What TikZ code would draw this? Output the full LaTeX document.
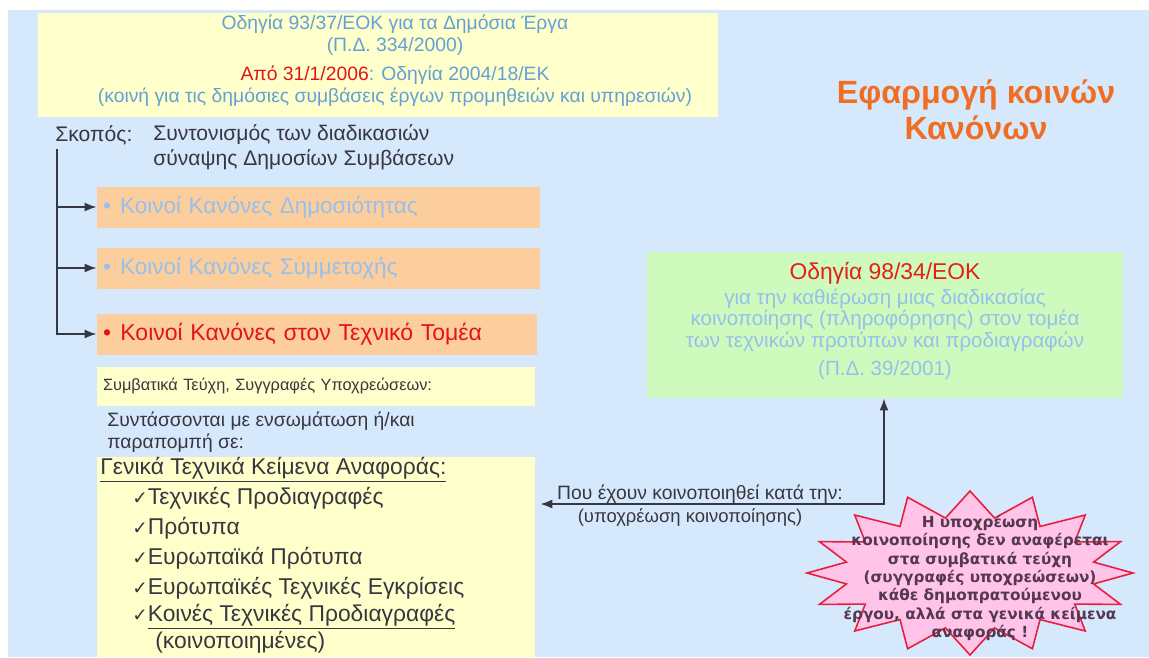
\documentclass[tikz,border=0pt]{standalone}
\usepackage{fontspec}
\setmainfont{Liberation Sans}
\newfontfamily\dejavu{DejaVu Sans}
\usetikzlibrary{arrows.meta}

\definecolor{bgblue}{RGB}{214,232,251}
\definecolor{lightyel}{RGB}{255,255,204}
\definecolor{peach}{RGB}{252,206,158}
\definecolor{mint}{RGB}{206,250,190}
\definecolor{paleblue}{RGB}{150,192,236}
\definecolor{dirblue}{RGB}{100,160,215}
\definecolor{darktxt}{RGB}{55,55,65}
\definecolor{redtxt}{RGB}{228,20,20}
\definecolor{titleorange}{RGB}{240,110,35}
\definecolor{starpink}{RGB}{255,196,232}
\definecolor{starred}{RGB}{232,30,60}
\definecolor{startxt}{RGB}{85,55,80}

\newcommand\ckm{{\dejavu\fontsize{10.5}{10.5}\selectfont ✓}}

\tikzset{
  kanbox/.style={fill=peach, minimum width=8.86cm, minimum height=0.82cm,
    text width=8.62cm, inner xsep=0.12cm, inner ysep=0pt, align=left,
    font=\fontsize{12.8}{15}\selectfont},
  txt/.style={inner sep=0pt, text=darktxt},
  chk/.style={txt, anchor=west, font=\fontsize{13}{16}\selectfont},
  branch/.style={draw=darktxt, line width=1.1pt, -{Latex[length=2.4mm,width=1.8mm]}},
}

\begin{document}
\begin{tikzpicture}[x=0.02cm,y=-0.02cm]
\useasboundingbox (0,0) rectangle (1149,657);
\fill[bgblue] (8,10) rectangle (1149,657);
% top box
  \node[fill=lightyel, minimum width=13.6cm, minimum height=2.08cm, inner sep=0] (topbox) at (378,65) {};
  \node[align=center, text=dirblue, font=\fontsize{11}{12.6}\selectfont] (dir1) at (395,35)
    {Οδηγία 93/37/ΕΟΚ για τα Δημόσια Έργα\\(Π.Δ. 334/2000)};
  \node[align=center, text=dirblue, font=\fontsize{11}{12.6}\selectfont] (dir2) at (395,86)
    {\textcolor{redtxt}{Από 31/1/2006}: Οδηγία 2004/18/ΕΚ\\(κοινή για τις δημόσιες συμβάσεις έργων προμηθειών και υπηρεσιών)};
% title
  \node[align=center, text=titleorange, font=\bfseries\fontsize{18.3}{20.5}\selectfont] (title) at (976,110)
    {Εφαρμογή κοινών\\Κανόνων};
% aim
  \node[txt, anchor=west, font=\fontsize{12}{14.2}\selectfont] (skopos) at (55,135) {Σκοπός:};
  \node[txt, anchor=west, align=left, font=\fontsize{12}{14.2}\selectfont] (syntonismos) at (153,147.5)
    {Συντονισμός των διαδικασιών\\σύναψης Δημοσίων Συμβάσεων};
  \coordinate (trunk) at (57,149);
% rules
  \node[kanbox, text=paleblue] (kan1) at (318.5,207) {\textbullet\hspace{5.3pt}Κοινοί Κανόνες Δημοσιότητας};
  \node[kanbox, text=paleblue] (kan2) at (318.5,268) {\textbullet\hspace{5.3pt}Κοινοί Κανόνες Συμμετοχής};
  \node[kanbox, text=redtxt, minimum width=8.8cm, text width=8.56cm,
    font=\fontsize{13.1}{15}\selectfont] (kan3) at (317,334) {\textbullet\hspace{5.3pt}Κοινοί Κανόνες στον Τεχνικό Τομέα};
  \draw[branch] (trunk) |- (kan1.west);
  \draw[branch] (trunk) |- (kan2.west);
  \draw[branch] (trunk) |- (kan3.west);
% documents
  \node[fill=lightyel, minimum width=8.76cm, minimum height=0.78cm, text width=8.52cm, inner xsep=0.12cm,
    inner ysep=0, align=left, text=darktxt, font=\fontsize{9.3}{11}\selectfont] (symv) at (316,386)
    {Συμβατικά Τεύχη, Συγγραφές Υποχρεώσεων:};
  \node[txt, anchor=west, align=left, font=\fontsize{11}{12.4}\selectfont] (syntass) at (107,432)
    {Συντάσσονται με ενσωμάτωση ή/και\\παραπομπή σε:};
  \node[fill=lightyel, minimum width=8.76cm, minimum height=4cm, inner sep=0] (gen) at (316,557) {};
  \node[txt, anchor=west, font=\fontsize{13}{15}\selectfont] (genika) at (100,470)
    {\underline{Γενικά Τεχνικά Κείμενα Αναφοράς:}};
  \node[chk] (it1) at (132,498) {\ckm Τεχνικές Προδιαγραφές};
  \node[chk] (it2) at (132,528) {\ckm Πρότυπα};
  \node[chk] (it3) at (132,558) {\ckm Ευρωπαϊκά Πρότυπα};
  \node[chk] (it4) at (132,588) {\ckm Ευρωπαϊκές Τεχνικές Εγκρίσεις};
  \node[chk] (it5) at (132,617) {\ckm\underline{Κοινές Τεχνικές Προδιαγραφές}};
  \node[chk] (it6) at (155,642) {(κοινοποιημένες)};
% directive 98/34
  \node[fill=mint, minimum width=9.52cm, minimum height=2.92cm, inner sep=0] (green) at (885,325) {};
  \node[text=redtxt!90!orange, font=\fontsize{13}{15}\selectfont] (g1) at (885,273) {Οδηγία 98/34/ΕΟΚ};
  \node[align=center, text=paleblue, font=\fontsize{11.7}{12.3}\selectfont] (g2) at (885,320)
    {για την καθιέρωση μιας διαδικασίας\\κοινοποίησης (πληροφόρησης) στον τομέα\\των τεχνικών προτύπων και προδιαγραφών};
  \node[text=paleblue, font=\fontsize{11.7}{12.3}\selectfont] (g3) at (885,370) {(Π.Δ. 39/2001)};
% star
  \begin{scope}[shift={(970,573)}]
    \draw[fill=starpink, draw=starred, line width=0.9pt, line join=miter]
      (0:163 and 82) \foreach \a in {0,22.5,...,337.5}{ -- (\a:163 and 82) -- ({\a+11.25}:126 and 56) } -- cycle;
  \end{scope}
  \node[align=center, text=startxt, font={\dejavu\bfseries\fontsize{8.7}{10.4}\selectfont}] (obl) at (980,578)
    {Η υποχρέωση\\κοινοποίησης δεν αναφέρεται\\στα συμβατικά τεύχη\\(συγγραφές υποχρεώσεων)\\κάθε δημοπρατούμενου\\έργου, αλλά στα γενικά κείμενα\\αναφοράς !};
% notification
  \coordinate (bend) at (884,504);
  \draw[darktxt, line width=1pt, {Latex[length=2.4mm,width=1.8mm]}-{Latex[length=2.4mm,width=1.8mm]}]
    ([xshift=0.1cm]gen.east |- bend) -- (bend) -- (green.south -| bend);
  \node[txt, font=\fontsize{11}{12.6}\selectfont] (pou) at (700,494) {Που έχουν κοινοποιηθεί κατά την:};
  \node[txt, font=\fontsize{10.5}{12.6}\selectfont] (ypoxr) at (690,517) {(υποχρέωση κοινοποίησης)};
\end{tikzpicture}
\end{document}
